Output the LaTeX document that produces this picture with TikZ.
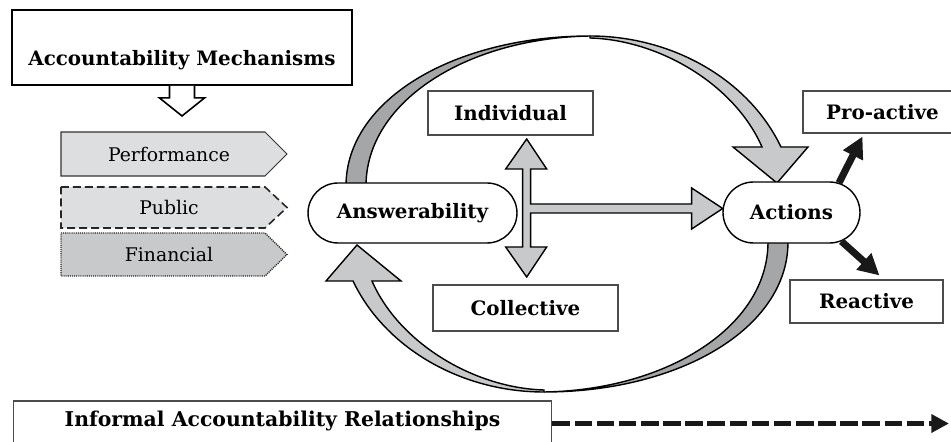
\documentclass[tikz,border=0pt]{standalone}
\usepackage{fontspec}
\setmainfont{DejaVu Serif}
\usetikzlibrary{calc,shapes.misc,arrows.meta}
\definecolor{arrowlight}{RGB}{200,201,203}
\definecolor{arrowdark}{RGB}{165,166,168}
\definecolor{tablight}{RGB}{221,222,223}
\definecolor{tabdark}{RGB}{200,201,202}
\tikzset{
textbox/.style = {draw = black!70, line width = 0.6pt, fill = white, inner sep = 0pt, font = \fontsize{11.3}{13}\selectfont\bfseries},
roundbox/.style = {rounded rectangle, draw, line width = 0.8pt, fill = white, inner sep = 0pt, font = \fontsize{11.3}{13}\selectfont\bfseries},
tabtext/.style = {font = \fontsize{10.7}{12}\selectfont},
tabsolid/.style = {draw = black!80, line width = 0.6pt, fill = tablight},
tabdashed/.style = {draw = black!85, line width = 0.9pt, fill = tablight, dash pattern = on 4.5pt off 2.3pt},
tabdotted/.style = {draw = black!85, line width = 0.8pt, fill = tabdark, dash pattern = on 0.6pt off 0.6pt},
blockarrow/.style = {draw, line width = 0.8pt, fill = arrowlight, line join = miter},
blackarrow/.style = {line width = 4pt, color = black!90, -{Triangle[length=12pt,width=12pt]}},
relarrow/.style = {line width = 3.4pt, color = black!90, dash pattern = on 10pt off 2.6pt, -{Triangle[length=10pt,width=10pt]}}}

\begin{document}
\begin{tikzpicture}[x=0.02cm, y=-0.02cm]
\useasboundingbox (0,0) rectangle (951,442);
%
% mechanisms
\node[textbox, line width = 1.1pt, draw = black, minimum width = 6.8cm, text height = 1.12cm, text depth = 0.38cm] (mech) at (182,47.5) {Accountability Mechanisms};
\begin{scope}[shift={(mech.south)}]
\draw[line width = 0.9pt, fill = white] (-12.5,0) -- (-12.5,12) -- (-22.5,12) -- (0,30) -- (22.5,12) -- (12.5,12) -- (12.5,0);
\end{scope}
%
\foreach \ytop/\ybot/\tabstyle/\tabname/\lbl in {132/176/tabsolid/perf/Performance, 187/228/tabdashed/pub/Public, 233/276/tabdotted/fin/Financial}{
\draw[\tabstyle] (61,\ytop) -- (265,\ytop) -- (287,{(\ytop+\ybot)/2}) -- (265,\ybot) -- (61,\ybot) -- cycle;
\node[tabtext] (\tabname) at (169,{(\ytop+\ybot)/2}) {\lbl};
}
%
% loop of curved arrows
\foreach \rot in {0,180}{
\begin{scope}[rotate around={\rot:(567,214)}]
\draw[blockarrow, fill = arrowdark] (346,186) .. controls (346,100) and (454,36) .. (590,36) .. controls (466,38) and (366,102) .. (366,186) -- cycle;
\draw[blockarrow] (590,36) .. controls (673,36) and (749,80) .. (781,147) -- (808,147) -- (777,183) -- (733,147) -- (762,147) .. controls (735,85) and (660,40) .. (590,38) -- cycle;
\end{scope}
}
%
% boxes
\node[roundbox, minimum width = 4.18cm, minimum height = 1.2cm] (ans) at (412.5,213) {Answerability};
\node[roundbox, minimum width = 2.74cm, minimum height = 1.22cm] (act) at (791.5,212.5) {Actions};
\node[textbox, minimum width = 3.3cm, minimum height = 0.88cm] (ind) at (510.5,113) {Individual};
\node[textbox, minimum width = 3.7cm, minimum height = 0.92cm] (col) at (525.5,308) {Collective};
\node[textbox, minimum width = 3.18cm, minimum height = 0.84cm] (pro) at (882.5,112) {Pro-active};
\node[textbox, minimum width = 3.06cm, minimum height = 0.86cm] (rea) at (866.5,301.5) {Reactive};
\node[textbox, minimum width = 10.78cm, text height = 0.52cm, text depth = 0.38cm, font = \fontsize{11.6}{14}\selectfont\bfseries] (inf) at (282.5,423.5) {Informal Accountability Relationships};
%
% individual / collective / actions
\coordinate (hub) at ($(ans.east)+(9,-4.5)$);
\begin{scope}[shift={(hub)}]
\draw[blockarrow] (-4,-39.5) -- (-21,-39.5) -- (0,-69.5) -- (20,-39.5) -- (4,-39.5) -- (4,-4.5) -- (165,-4.5) -- (165,-20.5) -- (196,0) -- (165,20.5) -- (165,4.5) -- (4,4.5) -- (4,38.5) -- (20,38.5) -- (0,68.5) -- (-21,38.5) -- (-4,38.5) -- cycle;
\end{scope}
%
\draw[blackarrow] (act.32) -- ($(pro.south west)+(60,3)$);
\draw[blackarrow] (act.-30) -- ($(rea.north west)+(90,-4)$);
%
\coordinate (rel) at (949,423.5);
\draw[relarrow] (inf.east) -- (rel);
%
\end{tikzpicture}
\end{document}
